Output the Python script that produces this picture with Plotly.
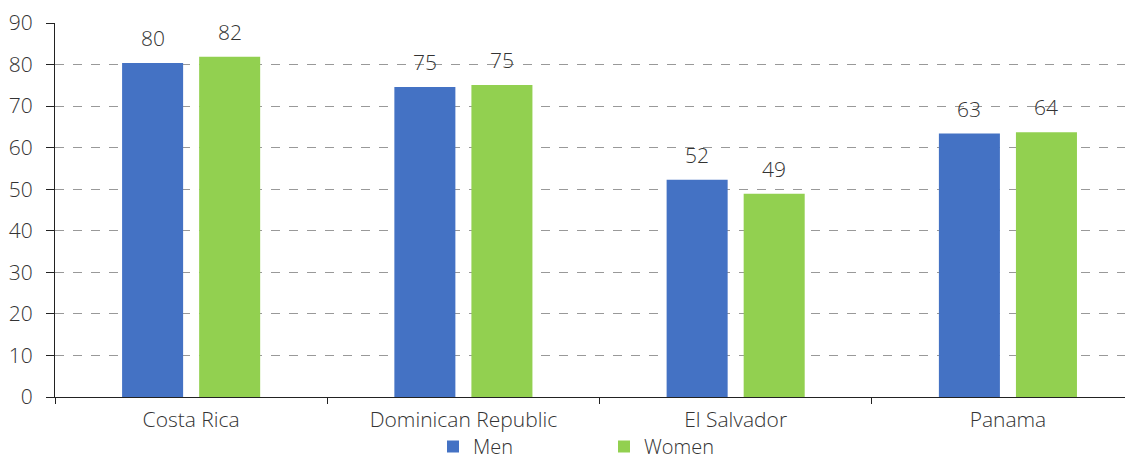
import plotly.graph_objects as go

countries = ["Costa Rica", "Dominican Republic", "El Salvador", "Panama"]
men = [80.4, 74.6, 52.3, 63.4]
women = [81.9, 75.1, 48.9, 63.7]
men_labels = ["80", "75", "52", "63"]
women_labels = ["82", "75", "49", "64"]

BLUE = "#4472C4"
GREEN = "#92D050"
FONT = "Open Sans, Noto Sans, sans-serif"
TXT = "#333333"
FS = 21

# page body has an 8px margin; figure sized to avoid scrollbars
W, H = 1117, 458

fig = go.Figure()
fig.add_trace(go.Bar(name="Men", x=countries, y=men, marker_color=BLUE,
                     marker_line_width=0))
fig.add_trace(go.Bar(name="Women", x=countries, y=women, marker_color=GREEN,
                     marker_line_width=0))

# data labels
SLOT = 38.5
fnt = dict(size=FS, color=TXT, family=FONT, weight=300)
for c, v, t in zip(countries, men, men_labels):
    fig.add_annotation(x=c, y=v, text=t, showarrow=False, yanchor="bottom",
                       xshift=-SLOT, yshift=9, font=fnt)
for c, v, t in zip(countries, women, women_labels):
    fig.add_annotation(x=c, y=v, text=t, showarrow=False, yanchor="bottom",
                       xshift=SLOT, yshift=9, font=fnt)

fig.update_layout(
    width=W, height=H,
    margin=dict(l=47, r=0, t=15, b=69),
    plot_bgcolor="white", paper_bgcolor="white",
    barmode="group", bargap=0.434, bargroupgap=0.208,
    font=fnt,
    showlegend=True,
    legend=dict(orientation="h", xref="container", yref="container",
                x=425 / W, xanchor="left",
                y=0, yanchor="bottom", entrywidth=126, entrywidthmode="pixels",
                font=dict(size=20, color=TXT, family=FONT, weight=300),
                bgcolor="rgba(0,0,0,0)", tracegroupgap=0),
)
fig.update_xaxes(
    type="category", range=[-0.5, 3.43], showline=True, linecolor="#222222", linewidth=1,
    ticks="outside", tickson="boundaries", ticklen=6, tickcolor="#222222",
    showgrid=False, tickfont=fnt, automargin=False, ticklabelstandoff=4,
)
fig.update_yaxes(
    range=[0, 90], dtick=10, showline=True, linecolor="#222222", linewidth=1,
    ticks="outside", ticklen=8, tickcolor="#222222",
    showgrid=True, gridcolor="#999999", griddash="dash", gridwidth=1,
    zeroline=False, tickfont=fnt, automargin=False, ticklabelstandoff=9,
)

fig.write_html("out.html")
